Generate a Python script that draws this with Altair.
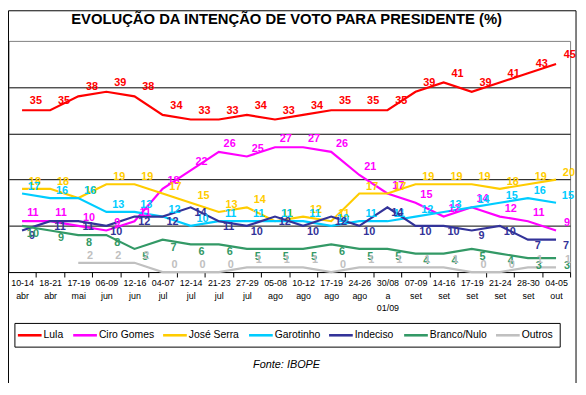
import altair as alt
import pandas as pd

dates = ["10-14\nabr", "18-21\nabr", "17-19\nmai", "06-09\njun", "12-16\njun",
         "04-07\njul", "12-14\njul", "21-23\njul", "27-29\njul", "05-08\nago",
         "10-12\nago", "17-19\nago", "24-26\nago", "30/08\na\n01/09", "07-09\nset",
         "14-16\nset", "17-19\nset", "21-24\nset", "28-30\nset", "04-05\nout"]

lula = [35, 35, 38, 39, 38, 34, 33, 33, 34, 33, 34, 35, 35, 35, 39, 41, 39, 41, 43, 45]
ciro = [11, 11, 10, 9, 11, 18, 22, 26, 25, 27, 27, 26, 21, 17, 15, 12, 14, 12, 11, 9]
serra = [18, 18, 16, 19, 19, 17, 15, 13, 14, 11, 12, 11, 17, 17, 19, 19, 19, 18, 19, 20]
garotinho = [17, 16, 16, 13, 13, 12, 10, 11, 11, 11, 11, 10, 11, 11, 12, 13, 14, 15, 16, 15]
indeciso = [9, 11, 11, 10, 12, 12, 14, 11, 10, 12, 10, 12, 10, 14, 10, 10, 9, 10, 7, 7]
branco = [10, 9, 8, 8, 5, 7, 6, 6, 5, 5, 5, 6, 5, 5, 4, 4, 5, 4, 3, 3]
outros = [None, None, 2, 2, 2, 0, 0, 0, 1, 1, 1, 0, 1, 1, 1, 1, 0, 0, 1, 1]

series = ["Lula", "Ciro Gomes", "José Serra", "Garotinho", "Indeciso", "Branco/Nulo", "Outros"]
colors = ["#FF0000", "#FF00FF", "#FFCC00", "#00CCFF", "#333399", "#339966", "#C0C0C0"]

title_text = "EVOLUÇÃO DA INTENÇÃO DE VOTO PARA PRESIDENTE (%)"
source_text = "Fonte: IBOPE"

# layout (styling) settings
label_dx = [14, 11, 13, 12, 10, 11, 12]
label_dy = [-9, -8, -7, -7, 6, 8, -7]
legend_sym_x = [10, 66, 157, 244, 325, 401, 494]   # legend entry start, px from plot left
legend_sym_len = 24
legend_text_gap = 2

all_values = [lula, ciro, serra, garotinho, indeciso, branco, outros]
rows = []
for s, vals in zip(series, all_values):
    for i, (d, v) in enumerate(zip(dates, vals)):
        if v is not None:
            rows.append({"serie": s, "data": d, "ordem": i, "valor": v})
df = pd.DataFrame(rows)

FONT = "Liberation Sans"
color_scale = alt.Scale(domain=series, range=colors)

x_enc = alt.X(
    "data:N", sort=dates,
    scale=alt.Scale(type="band", paddingInner=0, paddingOuter=0),
    axis=alt.Axis(title=None, labelExpr="split(datum.label, '\\n')", tickBand="extent",
                  labelAngle=0, labelFont=FONT, labelFontSize=9, labelLineHeight=12.5,
                  labelPadding=2, labelColor="black", labelBaseline="top",
                  tickSize=5, tickColor="black", domainColor="black", grid=False),
)
y_enc = alt.Y(
    "valor:Q",
    scale=alt.Scale(domain=[0, 50], nice=False, zero=True),
    axis=alt.Axis(title=None, labels=False, ticks=False, values=[10, 20, 30, 40],
                  grid=True, gridColor="black", gridWidth=1,
                  domainColor="#606060", domainWidth=2),
)

lines = alt.Chart(df).mark_line(strokeWidth=2.2).encode(
    x=x_enc, y=y_enc,
    color=alt.Color("serie:N", scale=color_scale, legend=None),
    order="ordem:Q",
)

layers = [lines]
for s, c, dx, dy in zip(series, colors, label_dx, label_dy):
    layers.append(
        alt.Chart(df).transform_filter(alt.datum.serie == s)
        .mark_text(dx=dx, dy=dy, font=FONT, fontSize=11, fontWeight="bold", color=c)
        .encode(x=x_enc, y=y_enc, text="valor:Q")
    )

# legend box built from the series list
leg_df = pd.DataFrame({
    "serie": series,
    "sx": legend_sym_x,
    "sx2": [v + legend_sym_len for v in legend_sym_x],
    "tx": [v + legend_sym_len + legend_text_gap for v in legend_sym_x],
})
leg_box = alt.Chart(pd.DataFrame({"a": [0]})).mark_rect(
    fill="white", stroke="black", strokeWidth=1
).encode(x=alt.value(7), x2=alt.value(559), y=alt.value(286), y2=alt.value(310))
leg_sym = alt.Chart(leg_df).mark_rule(strokeWidth=2.6).encode(
    x=alt.X("sx:Q", scale=None), x2="sx2:Q", y=alt.value(298),
    color=alt.Color("serie:N", scale=color_scale, legend=None),
)
leg_txt = alt.Chart(leg_df).mark_text(
    font=FONT, fontSize=10.5, color="black", align="left", baseline="middle"
).encode(x=alt.X("tx:Q", scale=None), y=alt.value(298), text="serie:N")

title_layer = alt.Chart(pd.DataFrame({"t": [title_text]})).mark_text(
    font=FONT, fontSize=15, fontWeight="bold", color="black", align="center", baseline="middle"
).encode(x=alt.value(282), y=alt.value(-22), text="t:N")

source_layer = alt.Chart(pd.DataFrame({"t": [source_text]})).mark_text(
    font=FONT, fontSize=11, fontStyle="italic", color="black", align="center", baseline="middle"
).encode(x=alt.value(282), y=alt.value(328), text="t:N")

frame = alt.Chart(pd.DataFrame({"a": [0]})).mark_rect(
    fillOpacity=0, stroke="black", strokeWidth=1
).encode(x=alt.value(0.5), x2=alt.value(575), y=alt.value(-30.5), y2=alt.value(354))

chart = alt.layer(*layers, leg_box, leg_sym, leg_txt, title_layer, source_layer, frame).properties(
    width=569, height=234,
    padding={"left": 0, "top": 31, "right": 8, "bottom": 110},
    autosize=alt.AutoSizeParams(type="none"),
).configure_view(stroke="#808080", strokeWidth=1)

chart.save("out.html", embed_options={"renderer": "svg", "actions": False})
